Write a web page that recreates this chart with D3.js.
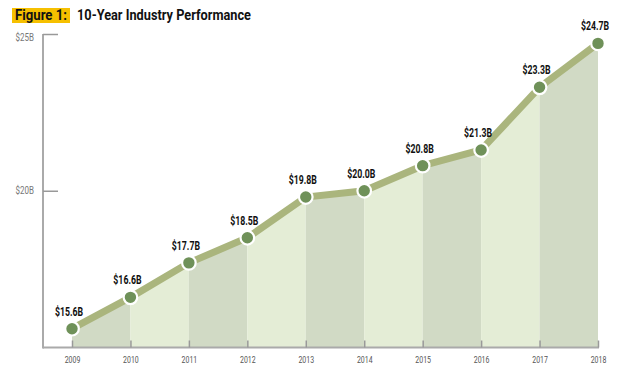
<!DOCTYPE html>
<html>
<head>
<meta charset="utf-8">
<script src="https://cdn.jsdelivr.net/npm/d3@7"></script>
<style>
  body { margin: 0; background: #fff; }
  svg { display: block; }
  text { font-family: Roboto, "Liberation Sans", sans-serif; }
</style>
</head>
<body>
<div id="chart"></div>
<script>
var years = [2009, 2010, 2011, 2012, 2013, 2014, 2015, 2016, 2017, 2018];
var revenue = [15.6, 16.6, 17.7, 18.5, 19.8, 20.0, 20.8, 21.3, 23.3, 24.7];
var yTicks = [20, 25];
var yTickLabels = ['$20B', '$25B'];

var W = 622, H = 373;
var svg = d3.select('#chart').append('svg').attr('width', W).attr('height', H);

var x = d3.scaleLinear().domain([2009, 2018]).range([72, 598]);
var y = d3.scaleLinear().domain([15, 25]).range([347.5, 34]);

var data = years.map(function(yr, i) { return {year: yr, v: revenue[i]}; });

// squeeze text horizontally, the original uses a condensed face
function squeeze(sel, k) {
  sel.each(function() {
    var t = d3.select(this);
    var tx = +t.attr('x') || 0;
    t.attr('transform', 'translate(' + tx + ',0) scale(' + k + ',1) translate(' + (-tx) + ',0)');
  });
}

// title
svg.append('rect').attr('x', 12).attr('y', 8).attr('width', 58).attr('height', 15).attr('fill', '#f6c000');
svg.append('text').attr('x', 15).attr('y', 20)
  .attr('font-size', 14).attr('font-weight', 'bold').attr('fill', '#111')
  .attr('textLength', 52).attr('lengthAdjust', 'spacingAndGlyphs').text('Figure 1:');
svg.append('text').attr('x', 77).attr('y', 20)
  .attr('font-size', 14).attr('font-weight', 'bold').attr('fill', '#111')
  .attr('textLength', 174).attr('lengthAdjust', 'spacingAndGlyphs').text('10-Year Industry Performance');

// alternating bands under the line
var area = d3.area().x(function(d) { return x(d.year); })
  .y0(y(15)).y1(function(d) { return y(d.v); });
for (var i = 0; i < data.length - 1; i++) {
  svg.append('path').datum([data[i], data[i + 1]])
    .attr('d', area)
    .attr('fill', i % 2 == 0 ? '#d1dac5' : '#e4edd6');
}

// axes
var xAxis = d3.axisBottom(x).tickValues(years).tickFormat(d3.format('d'))
  .tickSizeInner(-7).tickSizeOuter(0).tickPadding(9);
var gx = svg.append('g').attr('transform', 'translate(0,' + y(15) + ')').call(xAxis);
gx.select('.domain').attr('d', 'M43,0H' + (x(2018) + 1)).attr('stroke', '#aaa').attr('stroke-width', 2);
gx.selectAll('.tick line').attr('stroke', '#999').attr('stroke-width', 1.5);
gx.selectAll('.tick text').attr('font-size', 8.5).attr('fill', '#555')
  .attr('font-family', 'Roboto').call(squeeze, 0.82);

var yAxis = d3.axisLeft(y).tickValues(yTicks)
  .tickFormat(function(d, i) { return yTickLabels[i]; })
  .tickSizeInner(-15).tickSizeOuter(0).tickPadding(9);
var gy = svg.append('g').attr('transform', 'translate(43,0)').call(yAxis);
gy.select('.domain').attr('d', 'M0,' + y(25) + 'V' + (y(15) + 1)).attr('stroke', '#aaa').attr('stroke-width', 2);
gy.selectAll('.tick line').attr('stroke', '#999').attr('stroke-width', 1.5);
gy.selectAll('.tick text').attr('font-size', 10).attr('fill', '#777')
  .attr('dy', function(d) { return d == 25 ? '0.62em' : '0.32em'; })
  .call(squeeze, 0.8);

// line
var line = d3.line().x(function(d) { return x(d.year); }).y(function(d) { return y(d.v); });
svg.append('path').datum(data).attr('d', line)
  .attr('fill', 'none').attr('stroke', '#aab57d').attr('stroke-width', 7);

// points
svg.selectAll('circle.pt').data(data).enter().append('circle')
  .attr('class', 'pt')
  .attr('cx', function(d) { return x(d.year); })
  .attr('cy', function(d) { return y(d.v); })
  .attr('r', 6.8)
  .attr('fill', '#6f9159').attr('stroke', '#fff').attr('stroke-width', 2.2);

// value labels
svg.selectAll('text.val').data(data).enter().append('text')
  .attr('class', 'val')
  .attr('x', function(d) { return x(d.year) - 3; })
  .attr('y', function(d) { return y(d.v) - 13; })
  .attr('text-anchor', 'middle')
  .attr('font-size', 12.5).attr('font-weight', 'bold').attr('fill', '#111')
  .text(function(d) { return '$' + d.v.toFixed(1) + 'B'; })
  .call(squeeze, 0.7);
</script>
</body>
</html>
